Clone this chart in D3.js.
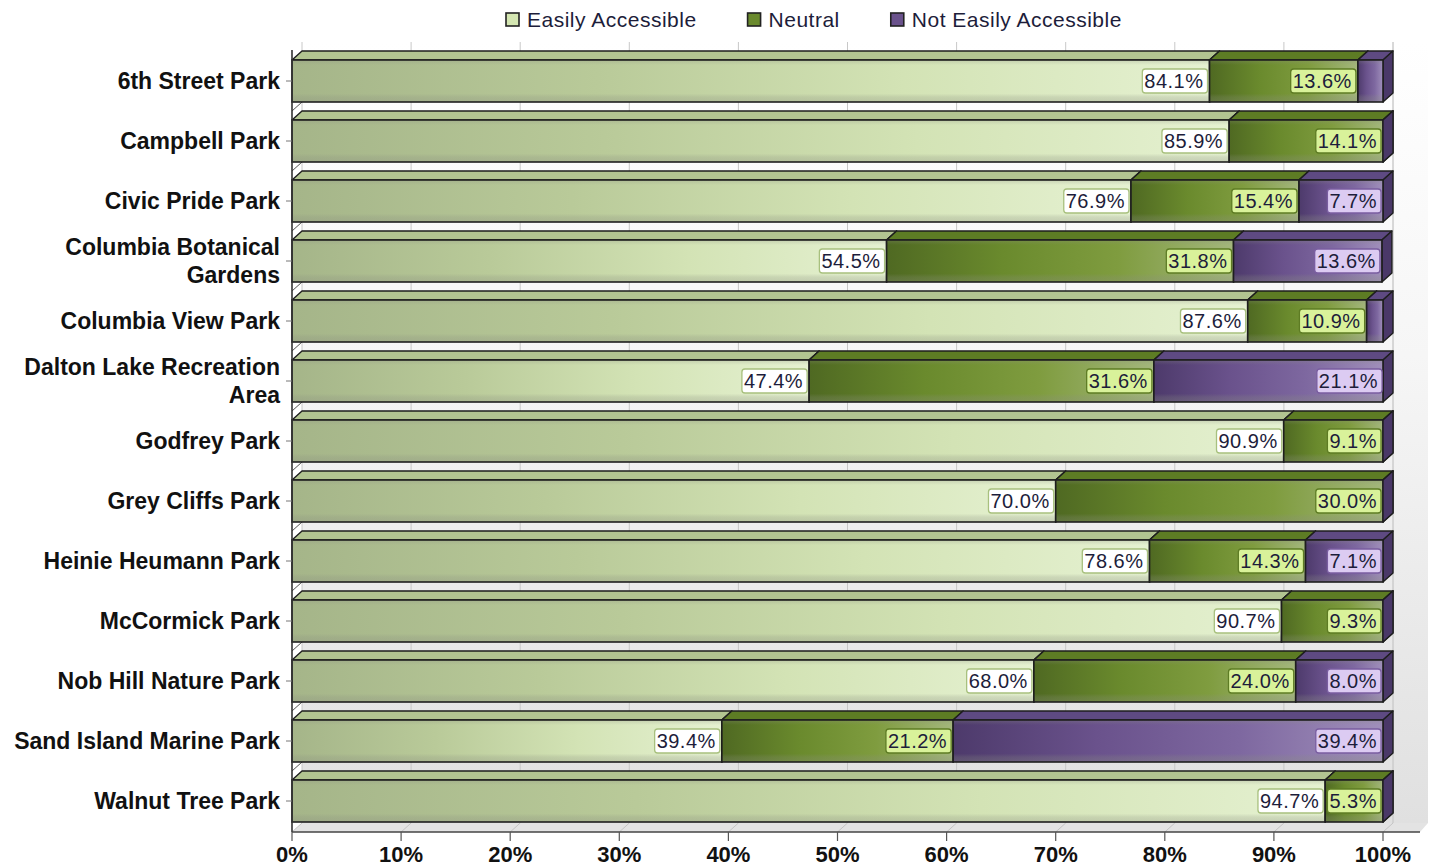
<!DOCTYPE html>
<html>
<head>
<meta charset="utf-8">
<script src="https://cdn.jsdelivr.net/npm/d3@7/dist/d3.min.js"></script>
<style>
  html, body { margin: 0; padding: 0; background: #ffffff; }
  svg { display: block; }
</style>
</head>
<body>
<svg id="chart" width="1437" height="868"></svg>
<script>
// Park accessibility survey: share of responses per park (percent)
const parks = [
  "6th Street Park", "Campbell Park", "Civic Pride Park",
  "Columbia Botanical Gardens", "Columbia View Park",
  "Dalton Lake Recreation Area", "Godfrey Park", "Grey Cliffs Park",
  "Heinie Heumann Park", "McCormick Park", "Nob Hill Nature Park",
  "Sand Island Marine Park", "Walnut Tree Park"
];
const easilyAccessible = [84.1, 85.9, 76.9, 54.5, 87.6, 47.4, 90.9, 70.0, 78.6, 90.7, 68.0, 39.4, 94.7];
const neutral          = [13.6, 14.1, 15.4, 31.8, 10.9, 31.6,  9.1, 30.0, 14.3,  9.3, 24.0, 21.2,  5.3];
const notEasily        = [ 2.3,  0.0,  7.7, 13.6,  1.5, 21.1,  0.0,  0.0,  7.1,  0.0,  8.0, 39.4,  0.0];
const seriesNames = ["Easily Accessible", "Neutral", "Not Easily Accessible"];
const xTickValues = [0, 10, 20, 30, 40, 50, 60, 70, 80, 90, 100];
// labels with wrapped lines
const wrapLines = {
  "Columbia Botanical Gardens": ["Columbia Botanical", "Gardens"],
  "Dalton Lake Recreation Area": ["Dalton Lake Recreation", "Area"]
};

const seriesValues = [easilyAccessible, neutral, notEasily];

// colour styling per series
const styles = [
  { front: ["#a5b589", "#b9ca99", "#d3e3b5", "#e5f1d1"], top: "#b2c491", side: "#93a575",
    boxFill: "#ffffff", boxStroke: "#a8c07e", swatch: "#d5e7b2" },
  { front: ["#4f6922", "#6a8a2d", "#7f9c3f", "#a3b67c"], top: "#5d7c24", side: "#465f1a",
    boxFill: "#d9f29a", boxStroke: "#5e7c24", swatch: "#6a8a2d" },
  { front: ["#4d3a6b", "#6a528c", "#7e68a0", "#a08fbb"], top: "#5e4a82", side: "#4a3868",
    boxFill: "#dccbf2", boxStroke: "#7a5ea0", swatch: "#6a528c" }
];

const DX = 10, DY = 9;          // depth offset of the 3D bars
const FACE_H = 42;              // height of a bar's front face

const svg = d3.select("#chart");
const defs = svg.append("defs");

const x = d3.scaleLinear().domain([0, 100]).range([292, 1383]);
const y = d3.scaleBand().domain(parks).range([50, 830]).padding(0);

// gradients
styles.forEach((s, i) => {
  const g = defs.append("linearGradient").attr("id", "front" + i)
    .attr("x1", 0).attr("x2", 1).attr("y1", 0).attr("y2", 0);
  s.front.forEach((c, k) => g.append("stop")
    .attr("offset", k / (s.front.length - 1)).attr("stop-color", c));
});
const shade = defs.append("linearGradient").attr("id", "shade")
  .attr("x1", 0).attr("x2", 0).attr("y1", 0).attr("y2", 1);
[[0, 0.28], [0.12, 0.0], [0.8, 0.0], [0.88, 0.22], [1, 0.34]].forEach(([o, a]) =>
  shade.append("stop").attr("offset", o).attr("stop-color", "#8a8f80").attr("stop-opacity", a));
const wallGrad = defs.append("linearGradient").attr("id", "wall")
  .attr("x1", 0).attr("x2", 0).attr("y1", 0).attr("y2", 1);
wallGrad.append("stop").attr("offset", 0).attr("stop-color", "#ffffff");
wallGrad.append("stop").attr("offset", 0.4).attr("stop-color", "#f6f6f6");
wallGrad.append("stop").attr("offset", 1).attr("stop-color", "#e0e0e0");

// back wall
const wallTop = 42, wallBottom = 823, wallRight = 1428;
svg.append("rect")
  .attr("x", x(0) + DX).attr("y", wallTop)
  .attr("width", wallRight - x(0) - DX).attr("height", wallBottom - wallTop)
  .attr("fill", "url(#wall)");
svg.append("line")
  .attr("x1", x(100) + DX).attr("x2", x(100) + DX)
  .attr("y1", wallTop).attr("y2", wallBottom)
  .attr("stroke", "#d4d4d4").attr("stroke-width", 1);

// vertical grid lines on the wall
svg.append("g").selectAll("line").data(xTickValues).join("line")
  .attr("x1", d => x(d) + DX).attr("x2", d => x(d) + DX)
  .attr("y1", wallTop).attr("y2", wallBottom)
  .attr("stroke", "#c8c8c8").attr("stroke-width", 1);

// floor
const floorFront = 832;
svg.append("path")
  .attr("d", `M${x(0)},${floorFront}L${wallRight - 8},${floorFront}L${wallRight},${floorFront - DY}L${x(0) + DX},${floorFront - DY}Z`)
  .attr("fill", "#e3e3e3");
svg.append("g").selectAll("line").data(xTickValues).join("line")
  .attr("x1", d => x(d)).attr("y1", floorFront)
  .attr("x2", d => x(d) + DX).attr("y2", floorFront - DY)
  .attr("stroke", "#c4c4c4").attr("stroke-width", 1);

// left wall edge lines between rows
svg.append("g").selectAll("line").data(parks.slice(1)).join("line")
  .attr("x1", x(0)).attr("y1", d => y(d) + 1)
  .attr("x2", x(0) + DX).attr("y2", d => y(d) + 1 - DY)
  .attr("stroke", "#555").attr("stroke-width", 1);

// stacked 3D bars
const rows = parks.map((p, i) => {
  let acc = 0;
  return seriesValues.map((vals, s) => {
    const seg = { park: p, series: s, value: vals[i], x0: acc, x1: acc + vals[i] };
    acc += vals[i];
    return seg;
  });
});

const barG = svg.append("g");
rows.forEach(segs => {
  const g = barG.append("g");
  segs.forEach(seg => {
    const st = styles[seg.series];
    const top = y(seg.park) + 10;
    const bot = top + FACE_H;
    const xa = x(seg.x0), xb = x(Math.min(seg.x1, 100));
    // top face
    g.append("path")
      .attr("d", `M${xa},${top}L${xa + DX},${top - DY}L${xb + DX},${top - DY}L${xb},${top}Z`)
      .attr("fill", st.top).attr("stroke", "#1e1e1e").attr("stroke-width", 1.4)
      .attr("stroke-linejoin", "round");
    // side face
    g.append("path")
      .attr("d", `M${xb},${top}L${xb + DX},${top - DY}L${xb + DX},${bot - DY}L${xb},${bot}Z`)
      .attr("fill", st.side).attr("stroke", "#1e1e1e").attr("stroke-width", 1.4)
      .attr("stroke-linejoin", "round");
    // front face
    if (xb - xa > 0) {
      g.append("rect")
        .attr("x", xa).attr("y", top).attr("width", xb - xa).attr("height", FACE_H)
        .attr("fill", `url(#front${seg.series})`);
      g.append("rect")
        .attr("x", xa).attr("y", top).attr("width", xb - xa).attr("height", FACE_H)
        .attr("fill", "url(#shade)");
      g.append("rect")
        .attr("x", xa).attr("y", top).attr("width", xb - xa).attr("height", FACE_H)
        .attr("fill", "none").attr("stroke", "#1e1e1e").attr("stroke-width", 1.6);
    }
  });
});

// value labels
const labelG = svg.append("g")
  .style("font-family", "'Liberation Sans', Arial, sans-serif")
  .style("font-size", "20px").style("letter-spacing", "0.5px");
rows.flat().filter(seg => seg.value >= 5).forEach(seg => {
  const st = styles[seg.series];
  const cy = y(seg.park) + 10 + FACE_H / 2;
  const right = x(seg.x1) - 2;
  const g = labelG.append("g");
  const box = g.append("rect");
  const t = g.append("text")
    .attr("x", right - 4).attr("y", cy).attr("dy", "0.36em")
    .attr("text-anchor", "end").attr("fill", "#1d1d3a")
    .text(seg.value.toFixed(1) + "%");
  const w = t.node().getComputedTextLength() + 6;
  box.attr("x", right - w).attr("y", cy - 12).attr("width", w).attr("height", 24)
    .attr("rx", 3).attr("fill", st.boxFill).attr("stroke", st.boxStroke).attr("stroke-width", 1.3);
});

// left axis
svg.append("line")
  .attr("x1", x(0)).attr("x2", x(0)).attr("y1", 50).attr("y2", floorFront)
  .attr("stroke", "#333").attr("stroke-width", 1.6);
const catG = svg.append("g")
  .style("font-family", "'Liberation Sans', Arial, sans-serif")
  .style("font-size", "23px").style("font-weight", "bold");
parks.forEach(p => {
  const cy = y(p) + 10 + FACE_H / 2;
  catG.append("line").attr("x1", x(0) - 6).attr("x2", x(0)).attr("y1", cy).attr("y2", cy)
    .attr("stroke", "#777").attr("stroke-width", 1);
  const lines = wrapLines[p] || [p];
  const t = catG.append("text").attr("text-anchor", "end").attr("fill", "#111");
  lines.forEach((ln, k) => {
    t.append("tspan").attr("x", x(0) - 12)
      .attr("y", cy + (k - (lines.length - 1) / 2) * 28)
      .attr("dy", "0.36em").text(ln);
  });
});

// bottom axis
svg.append("line")
  .attr("x1", x(0)).attr("x2", wallRight - 8).attr("y1", floorFront).attr("y2", floorFront)
  .attr("stroke", "#444").attr("stroke-width", 1.6);
const xAxisG = svg.append("g")
  .style("font-family", "'Liberation Sans', Arial, sans-serif")
  .style("font-size", "22px").style("font-weight", "bold");
xTickValues.forEach(v => {
  xAxisG.append("line").attr("x1", x(v)).attr("x2", x(v))
    .attr("y1", floorFront).attr("y2", floorFront + 9)
    .attr("stroke", "#555").attr("stroke-width", 1.2);
  xAxisG.append("text").attr("x", x(v)).attr("y", 862)
    .attr("text-anchor", "middle").attr("fill", "#111").text(v + "%");
});

// legend
const legG = svg.append("g")
  .style("font-family", "'Liberation Sans', Arial, sans-serif")
  .style("font-size", "21px").style("letter-spacing", "0.5px");
let lx = 506;
seriesNames.forEach((name, i) => {
  legG.append("rect").attr("x", lx).attr("y", 13).attr("width", 13).attr("height", 13)
    .attr("fill", styles[i].swatch).attr("stroke", "#222").attr("stroke-width", 1.6);
  const t = legG.append("text").attr("x", lx + 21).attr("y", 27).attr("fill", "#1d1d3a").text(name);
  lx += 21 + t.node().getComputedTextLength() + 51;
});
</script>
</body>
</html>
